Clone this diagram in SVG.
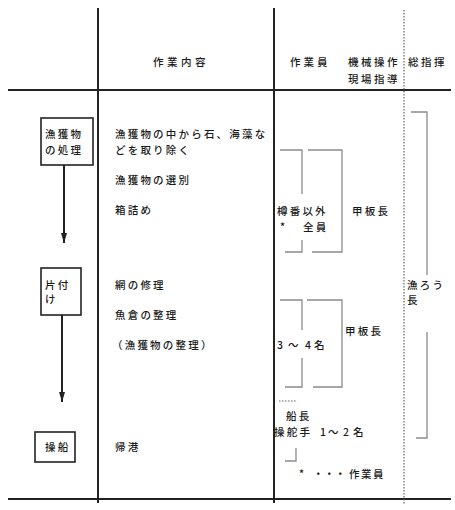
<svg xmlns="http://www.w3.org/2000/svg" width="455" height="510" viewBox="0 0 455 510">
<style>
text{font-family:"Noto Sans CJK JP","Noto Sans",sans-serif;font-size:10.5px;font-weight:500;fill:#1a1a1a;letter-spacing:2.2px}
.main{stroke:#222;stroke-width:2;fill:none}
.box{stroke:#222;stroke-width:1.6;fill:#fff}
.br{stroke:#8a8a8a;stroke-width:1.3;fill:none}
.dot{stroke:#666;stroke-width:1.2;stroke-dasharray:1.5 1.5;fill:none}
.arr{stroke:#222;stroke-width:2;fill:none}
</style>
<defs>
<marker id="ah" viewBox="0 0 10 6" refX="10" refY="3" markerWidth="10" markerHeight="6" markerUnits="userSpaceOnUse" orient="auto">
<path d="M0,0 L10,3 L0,6 Z" fill="#222"/>
</marker>
</defs>
<rect width="455" height="510" fill="#fff"/>
<g id="grid">
<path class="main" d="M8,90 H451 M8,499 H451 M98,8 V503 M274,8 V503"/>
<path class="dot" d="M404,10 V505"/>
</g>
<g id="header">
<text x="153" y="66" style="letter-spacing:3.5px">作業内容</text>
<text x="290" y="66" style="letter-spacing:3px">作業員</text>
<text x="348" y="66" style="letter-spacing:2.5px">機械操作</text>
<text x="348" y="83" style="letter-spacing:2.5px">現場指導</text>
<text x="408" y="66" style="letter-spacing:2.5px">総指揮</text>
</g>
<g id="connectors">
<path class="arr" d="M64,165 V243" marker-end="url(#ah)"/>
<path class="arr" d="M62,315 V402" marker-end="url(#ah)"/>
</g>
<g id="node-shori">
<rect class="box" x="41" y="118" width="52" height="47"/>
<text x="45" y="138">漁獲物</text>
<text x="45" y="154">の処理</text>
</g>
<g id="node-katazuke">
<rect class="box" x="41" y="268" width="40" height="47"/>
<text x="45" y="289">片付</text>
<text x="45" y="303">け</text>
</g>
<g id="node-sosen">
<rect class="box" x="35" y="432" width="40" height="30"/>
<text x="45" y="451">操船</text>
</g>
<g id="content">
<text x="115" y="138">漁獲物の中から石、海藻な</text>
<text x="115" y="154">どを取り除く</text>
<text x="115" y="184">漁獲物の選別</text>
<text x="115" y="214">箱詰め</text>
<text x="115" y="289">網の修理</text>
<text x="115" y="319">魚倉の整理</text>
<text x="112" y="349">（漁獲物の整理）</text>
<text x="115" y="451">帰港</text>
</g>
<g id="staff">
<path class="br" d="M280,150 H302 V194 M285,252 H302 V240"/>
<path class="br" d="M308,150 H342 V252 H312"/>
<text x="277" y="215">樽番以外</text>
<text x="280" y="231">*</text>
<text x="303" y="231">全員</text>
<text x="352" y="215">甲板長</text>
<path class="br" d="M280,300 H302 V330 M285,387 H302 V358"/>
<path class="br" d="M307,300 H342 V387 H313"/>
<text x="345" y="335">甲板長</text>
<text x="277" y="349" style="letter-spacing:0">3<tspan x="288">～</tspan><tspan x="305">4</tspan><tspan x="314">名</tspan></text>
<path class="dot" d="M279,401 H297"/>
<text x="286" y="420">船長</text>
<text x="274" y="436">操舵手<tspan x="320" style="letter-spacing:0">1</tspan><tspan x="328" style="letter-spacing:0">～</tspan><tspan x="343" style="letter-spacing:0">2</tspan><tspan x="353">名</tspan></text>
<path class="br" d="M285,461 H296 V448"/>
<text x="299" y="478" style="letter-spacing:0">*<tspan x="313">・</tspan><tspan x="324">・</tspan><tspan x="335">・</tspan><tspan x="349" style="letter-spacing:1.5px">作業員</tspan></text>
</g>
<g id="chief">
<path class="br" d="M411,112 H427 V275 M416,438 H427 V332"/>
<text x="407" y="289">漁ろう</text>
<text x="407" y="304">長</text>
</g>
</svg>
